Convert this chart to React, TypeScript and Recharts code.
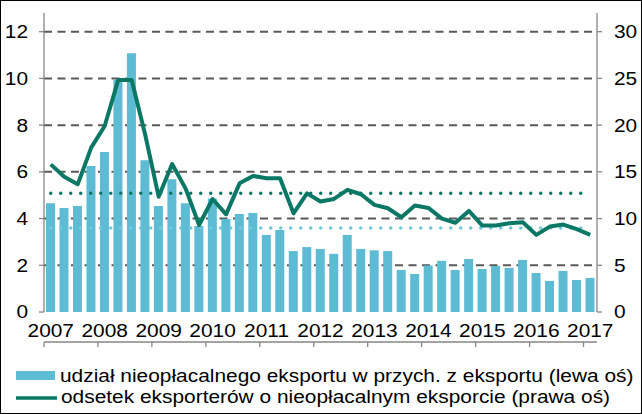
import React from 'react';
import {
  ComposedChart,
  Bar,
  Line,
  XAxis,
  YAxis,
  CartesianGrid,
  ReferenceLine,
} from 'recharts';

// ---- data ----
const years = ['2007', '2008', '2009', '2010', '2011', '2012', '2013', '2014', '2015', '2016', '2017'];

// udział nieopłacalnego eksportu w przych. z eksportu (lewa oś), quarterly 2007Q1–2017Q1
const shareUnprofitable = [
  4.66, 4.45, 4.54, 6.25,
  6.85, 9.93, 11.08, 6.5,
  4.54, 5.68, 4.66, 3.68,
  4.86, 3.98, 4.19, 4.24,
  3.3, 3.51, 2.61, 2.78,
  2.7, 2.49, 3.3, 2.7,
  2.64, 2.61, 1.8, 1.63,
  1.99, 2.19, 1.8, 2.27,
  1.84, 1.97, 1.89, 2.23,
  1.67, 1.33, 1.76, 1.37,
  1.46,
];

// odsetek eksporterów o nieopłacalnym eksporcie (prawa oś)
const exportersPct = [
  15.8, 14.48, 13.66, 17.59,
  19.9, 24.83, 24.83, 19.0,
  12.34, 15.84, 13.2, 9.31,
  12.09, 10.45, 13.77, 14.56,
  14.31, 14.31, 10.56, 12.7,
  11.82, 12.1, 13.07, 12.6,
  11.46, 11.1, 10.14, 11.39,
  11.14, 10.0, 9.55, 10.82,
  9.25, 9.25, 9.5, 9.6,
  8.25, 9.14, 9.36, 8.86,
  8.25,
];

const avgShare = 3.6; // lewa oś
const avgExporters = 12.7; // prawa oś
const avgStart = 0.5;
const avgEnd = 40;

const leftTicks = [0, 2, 4, 6, 8, 10, 12];
const rightTicks = [0, 5, 10, 15, 20, 25, 30];
const gridValues = [2, 4, 6, 8, 10, 12];

const legendLabels = [
  'udział nieopłacalnego eksportu w przych. z eksportu (lewa oś)',
  'odsetek eksporterów o nieopłacalnym eksporcie (prawa oś)',
];

// ---- styles ----
const BAR = '#5DBCD3';
const BAR_DOT = '#74C6D9';
const LINE = '#0B7866';
const GRID = '#595959';
const AXIS = '#868686';
const FONT = '"Liberation Sans", Arial, sans-serif';
const FS = 18.5;
const SX = 1.13;

const data = shareUnprofitable.map((v, i) => ({
  x: i + 0.5,
  share: v,
  pct: exportersPct[i],
}));

const boundaryTicks = years.map((_, i) => i * 4);
const labelTicks = years.map((_, i) => i * 4 + 0.5);

const EmptyTick = () => <g />;

const XLabelTick = (p: any) => {
  const idx = Math.round((p.payload.value - 0.5) / 4);
  return (
    <g transform={`translate(${p.x},${p.y + 25})`}>
      <text x={0} y={0} transform={`scale(${SX},1)`} textAnchor="middle" fontFamily={FONT} fontSize={FS} fill="#000">
        {years[idx]}
      </text>
    </g>
  );
};

const YTickLeft = (p: any) => (
  <g transform={`translate(${p.x},${p.y})`}>
    <text x={0} y={0} dy="0.35em" transform={`scale(${SX},1)`} textAnchor="end" fontFamily={FONT} fontSize={FS} fill="#000">
      {p.payload.value}
    </text>
  </g>
);

const YTickRight = (p: any) => (
  <g transform={`translate(${p.x},${p.y})`}>
    <text x={0} y={0} dy="0.35em" transform={`scale(${SX},1)`} textAnchor="start" fontFamily={FONT} fontSize={FS} fill="#000">
      {p.payload.value}
    </text>
  </g>
);

export default function App() {
  return (
    <div style={{ position: 'absolute', left: 0, top: 0, width: 642, height: 414, background: '#fff' }}>
      <ComposedChart
        width={642}
        height={414}
        data={data}
        margin={{ top: 13, right: 0, bottom: 64, left: 0 }}
      >
        <CartesianGrid
          xAxisId="t"
          yAxisId="l"
          vertical={false}
          horizontalValues={gridValues}
          stroke={GRID}
          strokeWidth={2}
          strokeDasharray="8 5.5"
        />
        <XAxis
          xAxisId="t"
          type="number"
          dataKey="x"
          domain={[0, 41]}
          ticks={boundaryTicks}
          interval={0}
          height={8}
          tickSize={5}
          tick={<EmptyTick />}
          stroke={AXIS}
          strokeWidth={1.3}
          allowDataOverflow
        />
        <XAxis
          xAxisId="lab"
          type="number"
          dataKey="x"
          domain={[0, 41]}
          ticks={labelTicks}
          interval={0}
          height={30}
          tickSize={0}
          tickMargin={0}
          axisLine={false}
          tickLine={false}
          tick={<XLabelTick />}
          allowDataOverflow
        />
        <YAxis
          yAxisId="l"
          domain={[0, 12.8]}
          ticks={leftTicks}
          interval={0}
          width={44}
          tickSize={5}
          tickMargin={11}
          stroke={AXIS}
          strokeWidth={1.3}
          tick={<YTickLeft />}
          allowDataOverflow
        />
        <YAxis
          yAxisId="r"
          orientation="right"
          domain={[0, 32]}
          ticks={rightTicks}
          interval={0}
          width={45}
          tickSize={5}
          tickMargin={12}
          stroke={AXIS}
          strokeWidth={1.3}
          tick={<YTickRight />}
          allowDataOverflow
        />
        <Bar xAxisId="t" yAxisId="l" dataKey="share" fill={BAR} barSize={9} isAnimationActive={false} />
        <ReferenceLine
          xAxisId="t"
          yAxisId="l"
          segment={[{ x: avgStart, y: avgShare }, { x: avgEnd, y: avgShare }]}
          stroke={BAR_DOT}
          strokeWidth={3.5}
          strokeDasharray="0 10"
          strokeLinecap="round"
        />
        <ReferenceLine
          xAxisId="t"
          yAxisId="r"
          segment={[{ x: avgStart, y: avgExporters }, { x: avgEnd, y: avgExporters }]}
          stroke={LINE}
          strokeWidth={3.5}
          strokeDasharray="0 10"
          strokeLinecap="round"
        />
        <Line
          xAxisId="t"
          yAxisId="r"
          type="linear"
          dataKey="pct"
          stroke={LINE}
          strokeWidth={4}
          strokeLinejoin="round"
          dot={false}
          activeDot={false}
          isAnimationActive={false}
        />
      </ComposedChart>
      <svg
        width={642}
        height={414}
        style={{ position: 'absolute', left: 0, top: 0, pointerEvents: 'none' }}
      >
        <rect x={16} y={371} width={39} height={9} fill={BAR} />
        <g transform={`translate(60,381.5)`}>
          <text x={0} y={0} transform={`scale(${SX},1)`} fontFamily={FONT} fontSize={FS} fill="#000">
            {legendLabels[0]}
          </text>
        </g>
        <line x1={16} y1={398} x2={57} y2={398} stroke={LINE} strokeWidth={3.5} />
        <g transform={`translate(61,403)`}>
          <text x={0} y={0} transform={`scale(${SX},1)`} fontFamily={FONT} fontSize={FS} fill="#000">
            {legendLabels[1]}
          </text>
        </g>
        <rect x={0.5} y={0.5} width={641} height={413} fill="none" stroke="#000" strokeWidth={1} />
      </svg>
    </div>
  );
}
